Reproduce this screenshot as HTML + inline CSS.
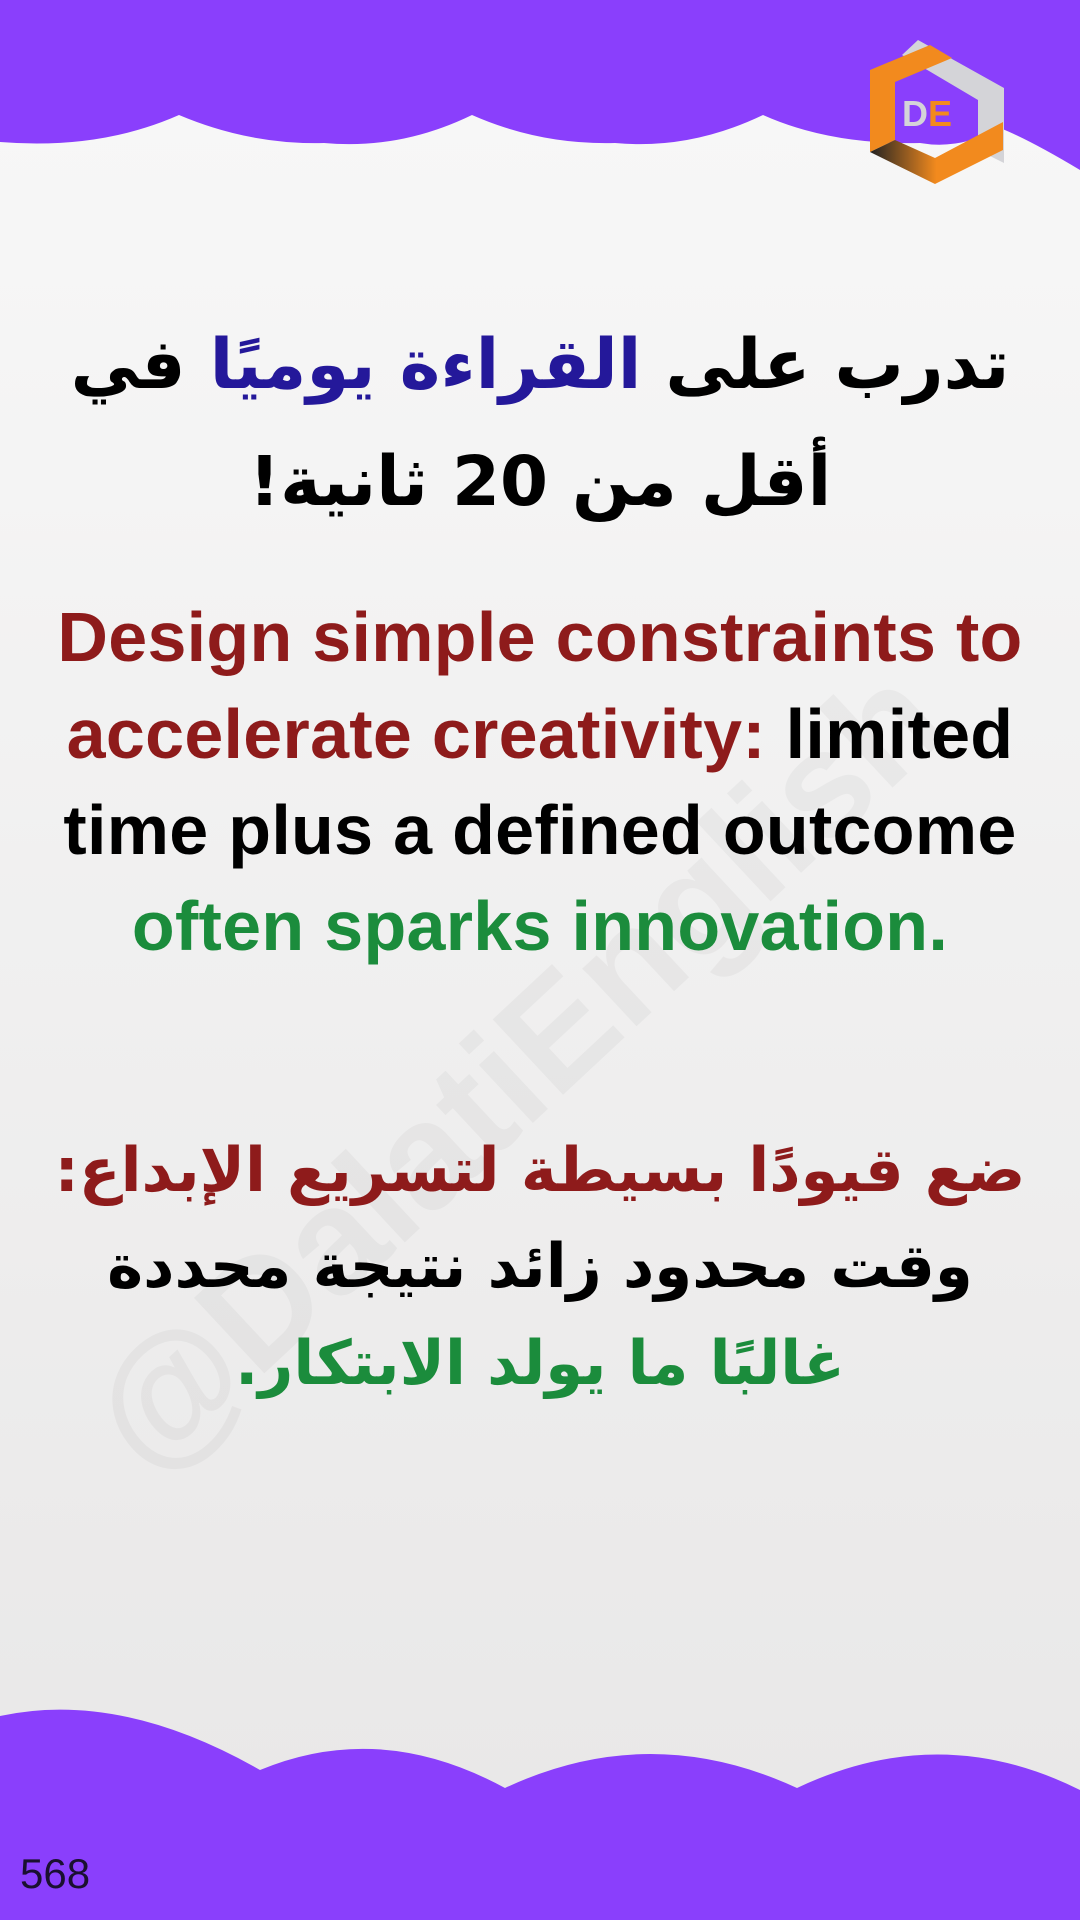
<!DOCTYPE html>
<html><head><meta charset="utf-8">
<style>
html,body{margin:0;padding:0}
body{width:1080px;height:1920px;position:relative;overflow:hidden;background:linear-gradient(#f8f8f8,#e8e7e7);font-family:"Liberation Sans","DejaVu Sans",sans-serif}
.t{position:absolute;left:0;width:1080px;text-align:center;font-weight:bold;white-space:nowrap}
.ar{font-family:"DejaVu Sans",sans-serif;direction:rtl;font-size:61px}
.en{font-size:70px;letter-spacing:0.3px}
.red{color:#8e1b1b}.green{color:#1b8c3c}.blue{color:#24189a}
</style></head><body>
<svg width="1080" height="1920" style="position:absolute;left:0;top:0">
<text x="0" y="0" transform="translate(150,1480) rotate(-43)" font-family="Liberation Sans" font-weight="bold" font-size="150" fill="#000" fill-opacity="0.035">@DalatiEnglish</text>
<path fill="#8a3ffc" d="M0,0 H1080 V170 Q1030,140 1000,128 Q960,150 920,143 Q830,145 763,115 Q690,150 615,143 Q540,145 472,115 Q400,150 324,143 Q250,145 179,115 Q100,150 0,142 Z"/>
<path fill="#8a3ffc" d="M0,1920 V1716 Q120,1690 260,1770 Q380,1720 505,1788 Q650,1720 797,1788 Q940,1720 1080,1790 V1920 Z"/>
<g>
<polygon fill="#d4d4d8" points="918,40 1004,88 1004,163 978,150 978,100 902,55"/>
<polygon fill="#f28a1e" points="870,70 930,45 952,58 895,82 895,140 870,152"/>
<defs><linearGradient id="g" x1="0" x2="1"><stop offset="0" stop-color="#222"/><stop offset="0.5" stop-color="#f28a1e"/></linearGradient></defs>
<polygon fill="url(#g)" points="870,152 895,140 935,158 1003,122 1003,150 935,184"/>
<text x="902" y="126" font-family="Liberation Sans" font-weight="bold" font-size="36" fill="#d4d4d8">D</text>
<text x="928" y="126" font-family="Liberation Sans" font-weight="bold" font-size="36" fill="#f28a1e">E</text>
</g>
</svg>
<div class="t ar" style="top:325px;font-size:69px">تدرب على <span class="blue">القراءة يوميًا</span> في</div>
<div class="t ar" style="top:442px;font-size:69px">أقل من 20 ثانية!</div>
<div class="t en red" style="top:597px">Design simple constraints to</div>
<div class="t en" style="top:694px"><span class="red">accelerate creativity:</span> limited</div>
<div class="t en" style="top:790px">time plus a defined outcome</div>
<div class="t en green" style="top:886px">often sparks innovation.</div>
<div class="t ar red" style="top:1135px">ضع قيودًا بسيطة لتسريع الإبداع:</div>
<div class="t ar" style="top:1231px">وقت محدود زائد نتيجة محددة</div>
<div class="t ar green" style="top:1328px">غالبًا ما يولد الابتكار.</div>
<div style="position:absolute;left:20px;top:1850px;font-size:42px;color:#1a1030">568</div>
</body></html>
